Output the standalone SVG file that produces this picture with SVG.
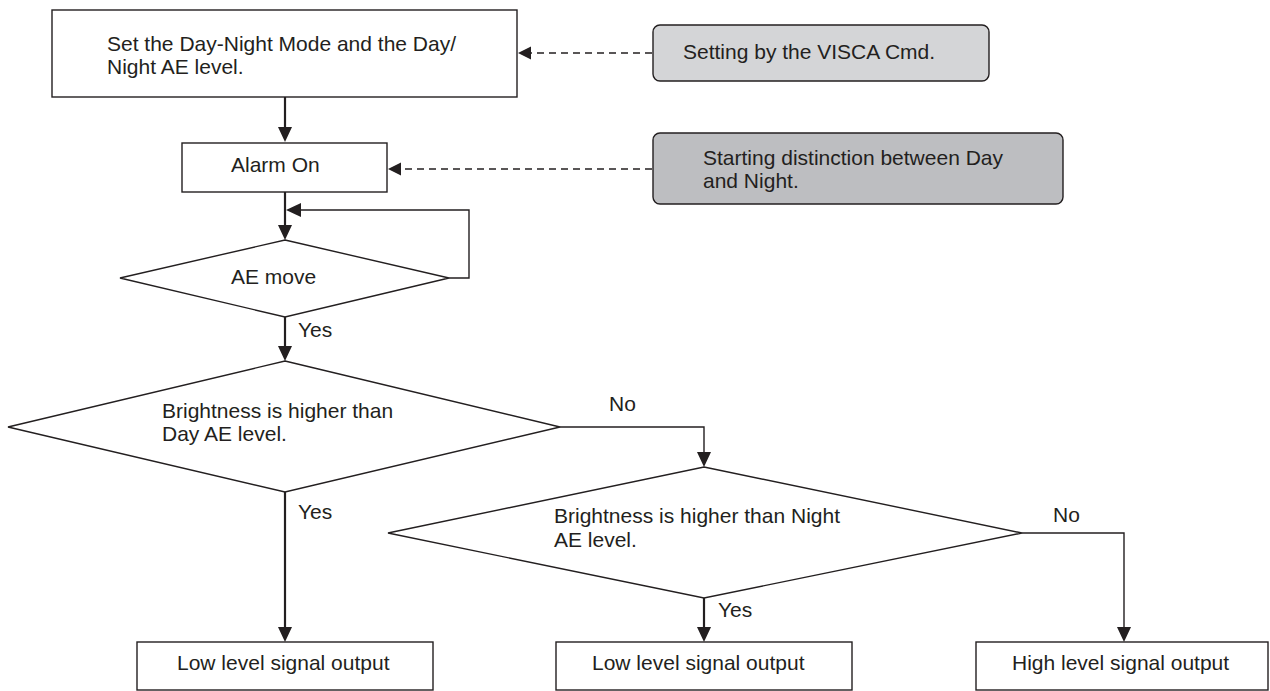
<svg xmlns="http://www.w3.org/2000/svg" width="1270" height="691" viewBox="0 0 1270 691">
<defs>
<style>
.box{fill:#fff;stroke:#231f20;stroke-width:1.4}
.note1{fill:#d4d5d7;stroke:#231f20;stroke-width:1.4}
.note2{fill:#bdbec1;stroke:#231f20;stroke-width:1.4}
.t{font-family:"Liberation Sans",Arial,sans-serif;font-size:21px;fill:#231f20}
.main{fill:none;stroke:#231f20;stroke-width:2.2}
.thin{fill:none;stroke:#231f20;stroke-width:1.4}
.dash{fill:none;stroke:#231f20;stroke-width:1.4;stroke-dasharray:7 5}
</style>
<marker id="ah" markerUnits="userSpaceOnUse" markerWidth="16" markerHeight="15" refX="7" refY="7" orient="auto">
<path d="M0,0 L15,7 L0,14 z" fill="#231f20"/>
</marker>
<marker id="ahs" markerUnits="userSpaceOnUse" markerWidth="14" markerHeight="14" refX="6" refY="6.5" orient="auto">
<path d="M0,0 L13,6.5 L0,13 z" fill="#231f20"/>
</marker>
</defs>
<rect width="1270" height="691" fill="#fff"/>

<g id="connectors">
<path class="main" d="M285,97 V134" marker-end="url(#ah)"/>
<path class="main" d="M285,192 V232" marker-end="url(#ah)"/>
<path class="thin" d="M449,278 H469 V210 H294" marker-end="url(#ah)"/>
<path class="main" d="M285,317 V353" marker-end="url(#ah)"/>
<path class="main" d="M285,492 V634" marker-end="url(#ah)"/>
<path class="thin" d="M560,427 H704 V459" marker-end="url(#ah)"/>
<path class="main" d="M704,598 V634" marker-end="url(#ah)"/>
<path class="thin" d="M1022,533 H1124 V634" marker-end="url(#ah)"/>
<path class="dash" d="M652,53 H525" marker-end="url(#ahs)"/>
<path class="dash" d="M652,169 H395" marker-end="url(#ahs)"/>
<text class="t" x="298" y="337">Yes</text>
<text class="t" x="609" y="411">No</text>
<text class="t" x="298" y="519">Yes</text>
<text class="t" x="1053" y="522">No</text>
<text class="t" x="718" y="617">Yes</text>
</g>

<g id="set-mode">
<rect class="box" x="52" y="10" width="465" height="87"/>
<text class="t" x="107" y="51">Set the Day-Night Mode and the Day/</text>
<text class="t" x="107" y="74">Night AE level.</text>
</g>

<g id="visca-note">
<rect class="note1" x="653" y="25" width="336" height="56" rx="7"/>
<text class="t" x="683" y="59">Setting by the VISCA Cmd.</text>
</g>

<g id="alarm-on">
<rect class="box" x="182" y="143" width="205" height="49"/>
<text class="t" x="231" y="172">Alarm On</text>
</g>

<g id="start-note">
<rect class="note2" x="653" y="133" width="410" height="71" rx="7"/>
<text class="t" x="703" y="165">Starting distinction between Day</text>
<text class="t" x="703" y="188">and Night.</text>
</g>

<g id="ae-move">
<polygon class="box" points="285,240 449,278 285,317 120,278"/>
<text class="t" x="231" y="284">AE move</text>
</g>

<g id="check-day">
<polygon class="box" points="285,361 560,427 285,492 8,427"/>
<text class="t" x="162" y="418">Brightness is higher than</text>
<text class="t" x="162" y="441">Day AE level.</text>
</g>

<g id="check-night">
<polygon class="box" points="704,467 1022,533 704,598 388,533"/>
<text class="t" x="554" y="523">Brightness is higher than Night</text>
<text class="t" x="554" y="547">AE level.</text>
</g>

<g id="low-1">
<rect class="box" x="137" y="642" width="296" height="48"/>
<text class="t" x="177" y="670">Low level signal output</text>
</g>

<g id="low-2">
<rect class="box" x="556" y="642" width="296" height="48"/>
<text class="t" x="592" y="670">Low level signal output</text>
</g>

<g id="high">
<rect class="box" x="976" y="642" width="292" height="48"/>
<text class="t" x="1012" y="670">High level signal output</text>
</g>
</svg>
